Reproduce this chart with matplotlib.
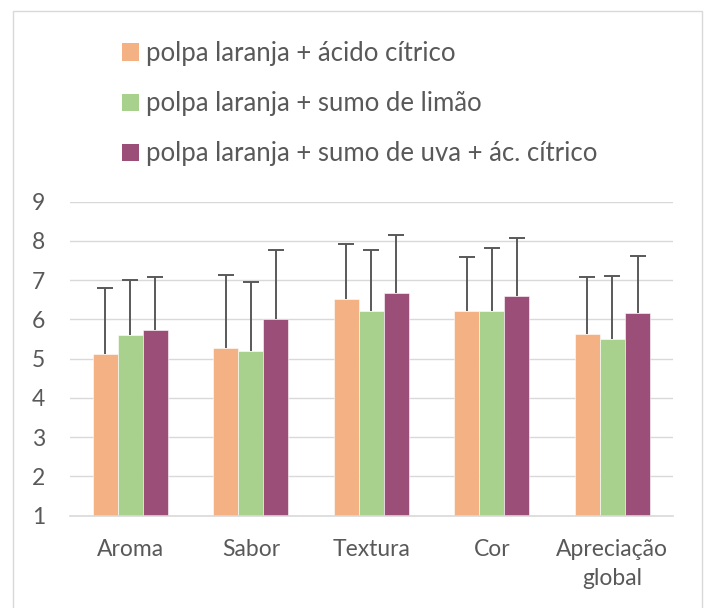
import matplotlib
matplotlib.use("Agg")
import matplotlib.pyplot as plt
import numpy as np
from matplotlib.patches import Rectangle, Patch

categories = ["Aroma", "Sabor", "Textura", "Cor", "Apreciação\nglobal"]
series_names = [
    "polpa laranja + ácido cítrico",
    "polpa laranja + sumo de limão",
    "polpa laranja + sumo de uva + ác. cítrico",
]
means_acido = [5.12, 5.26, 6.53, 6.22, 5.64]
means_limao = [5.60, 5.20, 6.22, 6.22, 5.50]
means_uva = [5.72, 6.00, 6.67, 6.59, 6.16]
err_acido = [1.69, 1.86, 1.39, 1.37, 1.44]
err_limao = [1.40, 1.75, 1.54, 1.61, 1.61]
err_uva = [1.37, 1.76, 1.47, 1.49, 1.45]
y_ticks = [1, 2, 3, 4, 5, 6, 7, 8, 9]

colors = ["#F4B183", "#A9D18E", "#9B4F78"]
text_color = "#595959"
grid_color = "#D9D9D9"

plt.rcParams["font.family"] = ["Lato", "DejaVu Sans"]

fig = plt.figure(figsize=(7.09, 6.08), dpi=100)
ax = fig.add_axes([70 / 709, 1 - 515.7 / 608, (672.7 - 70) / 709, (515.7 - 201.7) / 608])

x = np.arange(len(categories))
w = 0.208
all_means = [means_acido, means_limao, means_uva]
all_errs = [err_acido, err_limao, err_uva]
handles = []
for i, (m, e, c) in enumerate(zip(all_means, all_errs, colors)):
    pos = x + (i - 1) * w
    m = np.array(m)
    e = np.array(e)
    ax.bar(pos, m, width=w, color=c, edgecolor="white", linewidth=0.4, zorder=2)
    ax.vlines(pos, m, m + e, color=text_color, linewidth=1.4, zorder=3)
    ax.plot(pos, m + e, linestyle="none", marker="_", markersize=11,
            markeredgewidth=1.4, color=text_color, zorder=3)
    handles.append(Patch(facecolor=c, edgecolor="none"))

ax.set_ylim(1, 9)
ax.set_xlim(-0.5, len(categories) - 0.5)
ax.set_yticks(y_ticks)
ax.set_xticks(x)
ax.set_xticklabels(categories, linespacing=1.45)
ax.yaxis.grid(True, color=grid_color, linewidth=1.0, zorder=0)
ax.set_axisbelow(True)
for s in ["left", "right", "top"]:
    ax.spines[s].set_visible(False)
ax.spines["bottom"].set_color(grid_color)
ax.spines["bottom"].set_linewidth(1.2)
ax.tick_params(axis="both", length=0, labelcolor=text_color)
ax.tick_params(axis="y", pad=18, labelsize=16.5)
ax.tick_params(axis="x", pad=17, labelsize=16.5)

leg = fig.legend(handles, series_names, loc="upper left",
                 bbox_to_anchor=(122 / 709, 1 - 41 / 608), frameon=False,
                 fontsize=18.5, labelcolor=text_color, handlelength=0.65,
                 handleheight=0.65, handletextpad=0.3, labelspacing=0.98,
                 borderaxespad=0, borderpad=0)

fig.patches.append(Rectangle((13 / 709, -0.05), (702 - 13) / 709, 1.05 - 11 / 608,
                             transform=fig.transFigure, fill=False,
                             edgecolor="#D9D9D9", linewidth=1.0))

fig.savefig("out.png", dpi=100)
